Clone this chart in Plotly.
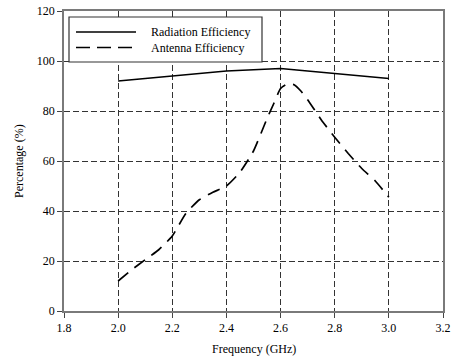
import plotly.graph_objects as go

rad_freq = [2.0, 2.2, 2.4, 2.6, 2.8, 3.0]
rad_eff = [92, 94, 96, 97, 95, 93]

ant_freq = [2.0, 2.05, 2.1, 2.15, 2.2, 2.25, 2.3, 2.35, 2.4, 2.45, 2.5, 2.55,
            2.575, 2.6, 2.625, 2.65, 2.675, 2.7, 2.75, 2.8, 2.85, 2.9, 2.95, 3.0]
ant_eff = [12, 16.5, 20.5, 24.5, 30, 39, 44.5, 47.5, 50, 55.5, 64, 77,
           83, 89, 90.8, 90.5, 88, 84.5, 76.5, 69.5, 63, 57, 52, 45.5]

x_ticks = [1.8, 2.0, 2.2, 2.4, 2.6, 2.8, 3.0, 3.2]
x_tick_labels = ["1.8", "2.0", "2.2", "2.4", "2.6", "2.8", "3.0", "3.2"]
y_ticks = [0, 20, 40, 60, 80, 100, 120]
series_names = ["Radiation Efficiency", "Antenna Efficiency"]

font_family = "Liberation Serif, Times New Roman, Times, serif"
W, H = 455, 360
ML, MR, MT, MB = 64, 12, 11, 49
PW, PH = W - ML - MR, H - MT - MB


def px_x(p):
    return (p - ML) / PW


def px_y(p):
    return (H - MB - p) / PH


fig = go.Figure()
fig.add_trace(go.Scatter(x=rad_freq, y=rad_eff, mode="lines", name=series_names[0],
                         line=dict(color="black", width=1.7), showlegend=False))
fig.add_trace(go.Scatter(x=ant_freq, y=ant_eff, mode="lines", name=series_names[1],
                         line=dict(color="black", width=1.7, dash="13px,8px", shape="spline", smoothing=0.5),
                         showlegend=False))

axis_common = dict(showline=True, mirror=True, linecolor="#7a7a7a", linewidth=1.6,
                   showgrid=True, gridcolor="#333333", griddash="6px,3px", gridwidth=1.2,
                   zeroline=False, ticks="outside", ticklen=5, tickcolor="#444444", tickwidth=1.2,
                   automargin=False,
                   tickfont=dict(family=font_family, size=12, color="black"))

fig.update_xaxes(range=[1.8, 3.2], tickvals=x_ticks, ticktext=x_tick_labels, **axis_common)
fig.update_yaxes(range=[0, 120], tickvals=y_ticks, **axis_common)

# axis titles
fig.add_annotation(text="Frequency (GHz)", xref="paper", yref="paper", x=0.5, y=px_y(349),
                   showarrow=False, xanchor="center", yanchor="middle",
                   font=dict(family=font_family, size=12, color="black"))
fig.add_annotation(text="Percentage (%)", xref="paper", yref="paper", x=px_x(19), y=0.5,
                   showarrow=False, xanchor="center", yanchor="middle", textangle=-90,
                   font=dict(family=font_family, size=12, color="black"))

# legend (drawn box)
fig.add_shape(type="rect", xref="paper", yref="paper", x0=px_x(69), x1=px_x(262),
              y0=px_y(62), y1=px_y(17), line=dict(color="#333333", width=1.2), fillcolor="white",
              layer="above")
fig.add_shape(type="line", xref="paper", yref="paper", x0=px_x(76), x1=px_x(136),
              y0=px_y(32), y1=px_y(32), line=dict(color="black", width=1.7), layer="above")
fig.add_shape(type="line", xref="paper", yref="paper", x0=px_x(76), x1=px_x(136),
              y0=px_y(47.5), y1=px_y(47.5), line=dict(color="black", width=1.7, dash="14px,7px"),
              layer="above")
for name, py in zip(series_names, [32, 47.5]):
    fig.add_annotation(text=name, xref="paper", yref="paper", x=px_x(149), y=px_y(py),
                       showarrow=False, xanchor="left", yanchor="middle",
                       font=dict(family=font_family, size=12, color="black"))

fig.update_layout(width=W, height=H, margin=dict(l=ML, r=MR, t=MT, b=MB),
                  plot_bgcolor="white", paper_bgcolor="white",
                  font=dict(family=font_family, size=12, color="black"),
                  showlegend=False)

fig.write_html("out.html")
